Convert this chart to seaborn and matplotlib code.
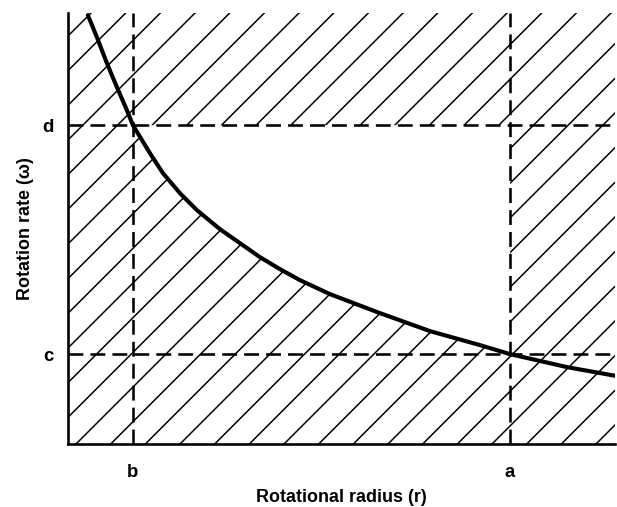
import numpy as np
import pandas as pd
import matplotlib
matplotlib.use("Agg")
import matplotlib.pyplot as plt
import seaborn as sns

# curve (arbitrary units)
radius = [20, 29, 39, 49, 59, 65, 82, 95, 112, 129, 152, 172, 192, 212, 232, 262,
          312, 362, 412, 442, 499, 549]
rate = [429, 407, 381, 357, 334, 319, 291, 271, 251, 234, 215, 201, 187, 175, 164, 150,
        131, 113, 99, 90, 77, 68]

# marked values
x_ticks = [65, 442]
x_labels = ["b", "a"]
y_ticks = [90, 319]
y_labels = ["c", "d"]

x_max = 547
y_max = 431

df = pd.DataFrame({"r": radius, "w": rate})

DPI = 104  # hatch spacing follows dpi
sns.set_style("white")
plt.rcParams["font.family"] = ["Liberation Sans", "DejaVu Sans"]
plt.rcParams["hatch.linewidth"] = 1.05
plt.rcParams["lines.scale_dashes"] = False

fig = plt.figure(figsize=(617 / DPI, 507 / DPI), dpi=DPI)
ax = fig.add_axes([0.110, 0.124, 0.887, 0.850])

# hatched background over the whole plot
ax.fill_between([0, x_max], 0, y_max, facecolor="white", edgecolor="black",
                hatch="/", linewidth=0, zorder=1)

# clear region: between b and a, above the curve and below d
b, a = x_ticks
c, d = y_ticks
inside = df[(df["r"] >= b) & (df["r"] <= a)]
ax.fill_between(inside["r"], inside["w"], d, facecolor="white", edgecolor="none",
                linewidth=0, zorder=2)

dash = (0, (10.3, 4.9))
for xv in x_ticks:
    ax.axvline(xv, color="black", lw=1.78, linestyle=dash, zorder=3)
for yv in y_ticks:
    ax.axhline(yv, color="black", lw=1.78, linestyle=dash, zorder=3)

sns.lineplot(data=df, x="r", y="w", color="black", lw=2.85, ax=ax, zorder=4,
             sort=False)

ax.set_xlim(0, x_max)
ax.set_ylim(0, y_max)
ax.set_xticks(x_ticks)
ax.set_xticklabels(x_labels, fontsize=12.9, fontweight="bold", color="black")
ax.set_yticks(y_ticks)
ax.set_yticklabels(y_labels, fontsize=12.9, fontweight="bold", color="black")
ax.tick_params(axis="x", length=0, pad=13.8)
ax.tick_params(axis="y", length=0, pad=9.6)

ax.set_xlabel("Rotational radius (r)", fontsize=12.4, fontweight="bold",
              color="black", labelpad=5.5)
ax.set_ylabel("Rotation rate (\u03c9)", fontsize=12.4, fontweight="bold",
              color="black", labelpad=6.0)

for side in ["top", "right"]:
    ax.spines[side].set_visible(False)
for side in ["left", "bottom"]:
    ax.spines[side].set_linewidth(1.8)
    ax.spines[side].set_color("black")
    ax.spines[side].set_zorder(5)

fig.savefig("out.png", dpi=DPI)
